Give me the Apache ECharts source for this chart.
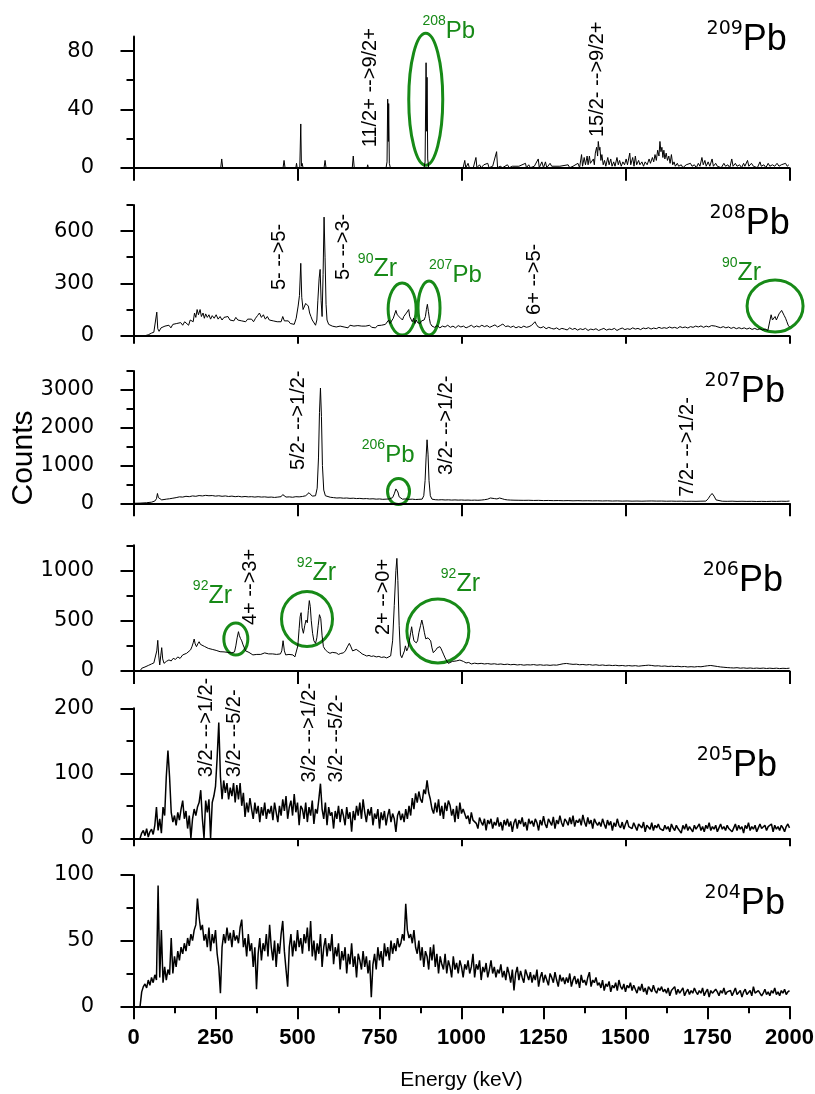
<!DOCTYPE html>
<html>
<head>
<meta charset="utf-8">
<script src="https://cdn.jsdelivr.net/npm/echarts@6/dist/echarts.min.js"></script>
<style>
html,body{margin:0;padding:0;background:#fff;}
#c{width:815px;height:1094px;}
</style>
</head>
<body>
<div id="c"></div>
<script>
// ---------------- DATA (energy keV, counts) ----------------
const isotopes = ['209', '208', '207', '206', '205', '204'];
const yMax = [90, 750, 3500, 1250, 200, 100];
const yMajor = [[0, 40, 80], [0, 300, 600], [0, 1000, 2000, 3000], [0, 500, 1000], [0, 100, 200], [0, 50, 100]];
const yMinor = [[20, 60], [150, 450, 750], [500, 1500, 2500, 3500], [250, 750, 1250], [50, 150], [25, 75]];
const xTicksBottom = [0, 250, 500, 750, 1000, 1250, 1500, 1750, 2000];
const xTitle = 'Energy (keV)';
const yTitle = 'Counts';

const p209 = [[20,0],[266,0],[269,6],[272,0],[456,0],[459,5],[462,0],[495,0],[497,3],[499,0],[507,0],[510,30],[512,1],[514,3],[517,0],[581,0],[584,5],[587,0],[667,0],[670,8],[673,0],[712,0],[714,2],[716,0],[770,0],[773,4],[775,47],[777,18],[778,44],[780,3],[783,0],[886,0],[889,4],[892,72],[894,25],[895,62],[897,6],[900,0],
[1005,0],[1010,5],[1013,0],[1020,3],[1024,0],[1030,1],[1036,0],[1044,7],[1047,0],[1055,2],[1060,0],[1068,2],[1072,1],[1080,3],[1084,0],[1095,1],[1100,0],[1107,11],[1110,0],[1118,1],[1125,0],[1140,2],[1146,0],[1155,1],[1160,0],[1175,1],[1180,0],[1195,3],[1198,0],[1205,2],[1210,0],[1222,1],[1226,0],[1234,6],[1237,0],[1245,4],[1250,0],[1256,4],[1260,0],[1270,3],[1275,1],[1280,0],[1300,1],[1305,0],[1325,2],[1330,0],[1340,1],[1345,0],[1355,3],[1360,0],[1366,9],[1369,1],[1374,7],[1378,2],[1383,8],[1386,2],[1390,8],[1393,3],[1398,2],[1402,6],[1405,2],[1408,10],[1412,14],[1415,8],[1417,18],[1420,12],[1422,14],[1425,5],[1428,9],[1432,2],[1436,5],[1440,1],[1446,7],[1450,2],[1455,6],[1459,1],[1464,4],[1468,1],[1474,7],[1478,2],[1482,5],[1487,1],[1492,4],[1497,2],[1502,6],[1506,2],[1513,10],[1516,2],[1522,7],[1526,1],[1530,8],[1534,2],[1540,5],[1544,2],[1550,4],[1555,1],[1560,4],[1566,2],[1572,6],[1576,3],[1582,7],[1586,4],[1590,9],[1594,5],[1598,12],[1602,8],[1605,18],[1608,11],[1611,14],[1614,7],[1617,12],[1620,6],[1624,10],[1628,5],[1632,8],[1636,3],[1640,9],[1644,2],[1648,4],[1652,1],[1658,3],[1662,1],[1670,2],[1675,0],[1685,2],[1690,1],[1698,3],[1703,1],[1710,2],[1716,0],[1722,3],[1727,1],[1733,7],[1737,2],[1742,5],[1746,1],[1752,4],[1757,1],[1764,6],[1768,1],[1775,3],[1780,1],[1786,2],[1792,0],[1800,3],[1805,1],[1812,2],[1818,0],[1824,6],[1828,1],[1835,3],[1840,1],[1848,2],[1854,0],[1860,3],[1864,1],[1872,5],[1876,1],[1884,3],[1890,1],[1896,2],[1902,0],[1910,4],[1914,1],[1922,2],[1928,0],[1935,3],[1940,1],[1948,2],[1955,1],[1962,3],[1968,1],[1975,2],[1980,1],[1988,3],[1993,1],[1998,2]];

const p208 = [[35,0],[45,5],[55,15],[62,20],[68,30],[71,135],[74,40],[78,25],[84,45],[90,35],[96,55],[102,50],[108,60],[114,45],[120,65],[126,55],[132,70],[138,60],[144,75],[150,60],[156,80],[162,70],[168,60],[173,90],[178,100],[182,80],[186,130],[190,105],[194,150],[198,120],[203,150],[207,110],[212,130],[216,100],[220,125],[225,105],[230,120],[235,95],[240,115],[246,100],[252,120],[258,95],[264,110],[270,90],[276,105],[282,95],[288,110],[294,90],[300,100],[306,85],[312,105],[318,90],[324,100],[330,85],[336,95],[342,80],[348,95],[354,85],[360,95],[366,80],[372,100],[378,115],[384,130],[390,105],[396,120],[402,95],[408,110],[414,90],[420,100],[426,85],[432,95],[438,80],[444,90],[450,80],[455,110],[460,85],[466,75],[472,85],[478,70],[484,80],[490,65],[496,100],[502,170],[506,230],[510,415],[513,220],[517,150],[521,160],[525,185],[529,195],[533,170],[537,130],[541,110],[545,90],[550,85],[555,60],[559,90],[562,200],[566,330],[569,380],[572,200],[575,110],[578,350],[581,680],[584,450],[587,180],[590,90],[595,65],[600,70],[606,55],[612,65],[618,50],[624,60],[630,55],[636,65],[642,50],[648,58],[654,45],[660,60],[666,50],[672,55],[678,45],[684,58],[690,50],[696,55],[702,45],[708,55],[714,50],[720,60],[726,48],[732,55],[738,45],[744,58],[750,50],[756,60],[762,55],[768,65],[774,60],[778,90],[782,70],[787,60],[792,100],[796,110],[800,145],[804,120],[808,130],[812,105],[816,110],[820,90],[824,110],[828,105],[832,130],[836,125],[839,150],[842,110],[846,95],[850,80],[854,100],[858,70],[862,90],[866,75],[870,80],[874,70],[878,85],[882,75],[886,90],[890,110],[893,150],[896,180],[899,140],[902,100],[905,70],
[910,55],[918,48],[926,58],[934,45],[942,55],[950,50],[958,60],[966,48],[974,55],[982,45],[990,58],[998,50],[1006,55],[1014,45],[1022,52],[1030,60],[1038,48],[1046,56],[1054,50],[1062,60],[1070,52],[1078,58],[1086,48],[1094,55],[1102,62],[1110,50],[1118,58],[1126,67],[1134,52],[1142,56],[1150,48],[1158,55],[1166,45],[1174,52],[1182,46],[1190,55],[1198,48],[1206,52],[1214,60],[1220,70],[1224,80],[1228,65],[1234,50],[1242,45],[1250,52],[1258,40],[1266,48],[1274,42],[1282,38],[1290,45],[1298,35],[1306,42],[1314,38],[1322,33],[1330,45],[1338,36],[1346,42],[1354,32],[1362,40],[1370,35],[1378,42],[1386,30],[1394,38],[1402,34],[1410,40],[1418,30],[1426,36],[1434,42],[1442,32],[1450,38],[1458,35],[1466,42],[1474,30],[1482,38],[1490,44],[1498,35],[1506,40],[1514,36],[1522,45],[1530,38],[1538,42],[1546,35],[1554,44],[1562,40],[1570,46],[1578,38],[1586,44],[1594,40],[1602,48],[1610,42],[1618,46],[1626,42],[1634,50],[1642,44],[1650,48],[1658,42],[1666,52],[1674,46],[1682,50],[1690,44],[1698,52],[1706,48],[1714,55],[1722,50],[1730,56],[1738,48],[1746,55],[1754,50],[1762,58],[1768,67],[1774,55],[1782,50],[1790,46],[1798,52],[1806,45],[1814,50],[1822,42],[1830,48],[1838,40],[1846,46],[1854,40],[1862,45],[1870,38],[1878,44],[1886,36],[1894,42],[1902,35],[1910,40],[1918,33],[1926,38],[1934,30],[1940,40],[1944,120],[1948,90],[1952,100],[1956,110],[1960,90],[1964,100],[1968,125],[1972,135],[1976,145],[1980,130],[1984,115],[1988,100],[1992,80],[1996,60],[2000,50]];

const p207 = [[0,0],[20,5],[40,15],[55,30],[65,60],[70,120],[73,260],[76,150],[79,200],[82,120],[86,90],[92,100],[100,110],[110,120],[120,135],[130,150],[140,170],[150,165],[160,185],[170,175],[180,195],[190,185],[200,205],[210,195],[220,210],[230,200],[240,205],[250,190],[260,200],[270,185],[280,195],[290,180],[300,190],[310,175],[320,185],[330,170],[340,180],[350,170],[360,175],[370,165],[380,175],[390,165],[400,170],[410,160],[420,165],[430,155],[440,165],[450,175],[455,230],[458,190],[465,165],[475,170],[485,160],[495,175],[505,170],[515,180],[525,200],[530,240],[535,280],[540,230],[545,190],[550,185],[555,200],[560,400],[564,1200],[567,2400],[570,3050],[573,2300],[576,1000],[580,350],[585,200],[590,170],[600,160],[610,150],[620,140],[630,145],[640,135],[650,140],[660,130],[670,135],[680,125],[690,130],[700,120],[710,125],[720,115],[730,120],[740,110],[750,115],[760,105],[770,110],[780,115],[790,150],[795,250],[800,380],[803,400],[806,300],[810,170],[815,120],[820,110],[830,115],[840,105],[850,110],[860,100],[870,105],[880,110],[885,200],[889,600],[892,1200],[895,1680],[898,1300],[901,600],[905,200],
[910,110],[920,95],[930,90],[940,95],[950,88],[960,92],[970,85],[980,90],[990,84],[1000,88],[1010,82],[1020,86],[1030,80],[1040,84],[1050,80],[1060,85],[1070,95],[1080,110],[1088,140],[1094,150],[1100,125],[1108,115],[1116,140],[1124,120],[1132,100],[1140,90],[1150,85],[1160,82],[1175,80],[1190,78],[1205,80],[1220,75],[1235,78],[1250,72],[1265,75],[1280,70],[1295,73],[1310,68],[1325,72],[1340,66],[1355,70],[1370,65],[1385,68],[1400,64],[1415,67],[1430,62],[1445,66],[1460,60],[1475,64],[1490,58],[1505,62],[1520,57],[1535,60],[1550,56],[1565,60],[1580,62],[1595,58],[1610,60],[1625,55],[1640,58],[1655,54],[1670,57],[1685,52],[1700,55],[1715,52],[1730,56],[1745,58],[1752,120],[1758,200],[1764,260],[1770,190],[1776,90],[1782,60],[1795,55],[1810,52],[1825,56],[1840,50],[1855,54],[1870,50],[1885,53],[1900,48],[1915,52],[1930,48],[1945,53],[1960,50],[1975,55],[1990,52],[2000,60]];

const p206 = [[20,0],[25,27],[35,40],[45,55],[55,70],[62,80],[68,90],[71,200],[74,305],[77,150],[80,60],[83,150],[86,232],[89,120],[93,76],[100,95],[108,110],[115,100],[121,126],[128,115],[135,140],[142,125],[150,160],[156,150],[162,176],[168,165],[174,210],[178,240],[182,280],[185,318],[188,270],[192,242],[196,270],[200,291],[204,265],[210,255],[216,245],[222,242],[228,225],[234,230],[240,215],[246,220],[252,205],[258,200],[264,192],[270,200],[276,190],[282,195],[288,185],[294,190],[300,180],[304,176],[308,190],[312,250],[316,330],[320,391],[323,350],[326,325],[330,300],[334,260],[338,230],[342,200],[346,192],[352,185],[358,170],[364,160],[370,149],[376,165],[382,175],[388,165],[394,170],[400,180],[406,176],[412,170],[418,180],[424,170],[430,175],[436,165],[442,175],[448,170],[452,200],[456,301],[460,200],[464,160],[468,149],[474,165],[480,150],[486,160],[492,140],[497,149],[501,250],[505,420],[508,540],[511,580],[514,430],[518,375],[522,450],[526,507],[530,480],[533,600],[536,700],[539,640],[542,500],[546,375],[550,300],[555,275],[559,330],[563,450],[567,560],[571,520],[575,350],[579,242],[585,210],[592,190],[599,176],[606,185],[612,170],[618,180],[625,165],[632,175],[640,180],[646,200],[652,240],[658,275],[663,240],[668,200],[674,195],[679,215],[685,225],[690,190],[697,170],[704,160],[711,149],[718,155],[725,145],[732,150],[740,140],[748,145],[756,135],[764,140],[772,130],[778,132],[784,150],[790,300],[795,650],[800,1000],[803,1120],[806,900],[810,450],[814,160],[818,132],[822,150],[826,200],[829,250],[833,200],[837,230],[841,300],[845,380],[848,440],[851,370],[855,300],[858,308],[862,280],[866,300],[870,380],[875,450],[879,507],[883,450],[887,380],[891,320],[894,308],[898,330],[902,341],[906,300],[910,230],[914,182],[918,200],[922,210],[926,230],[930,242],[934,242],[938,220],[942,190],[946,160],[950,130],[955,100],[960,76],[966,85],[972,95],[978,90],[984,100],[990,110],[995,109],[1000,100],
[1006,95],[1014,80],[1022,85],[1030,70],[1040,78],[1050,72],[1060,76],[1070,70],[1080,74],[1090,68],[1100,72],[1110,66],[1120,70],[1130,64],[1140,68],[1150,62],[1160,66],[1170,60],[1180,64],[1190,58],[1200,62],[1210,60],[1220,64],[1230,58],[1240,62],[1250,57],[1260,60],[1270,56],[1280,60],[1290,58],[1300,65],[1310,72],[1320,75],[1330,70],[1340,66],[1350,68],[1360,62],[1370,65],[1380,60],[1390,64],[1400,58],[1410,62],[1420,56],[1430,60],[1440,55],[1450,58],[1460,54],[1470,57],[1480,52],[1490,55],[1500,50],[1510,54],[1520,50],[1530,53],[1540,48],[1550,52],[1560,55],[1570,58],[1580,55],[1590,50],[1600,52],[1610,47],[1620,50],[1630,45],[1640,48],[1650,44],[1660,47],[1670,42],[1680,45],[1690,40],[1700,43],[1710,40],[1720,44],[1730,42],[1740,47],[1750,52],[1760,55],[1770,50],[1780,45],[1790,40],[1800,37],[1810,34],[1820,32],[1830,30],[1840,33],[1850,28],[1860,31],[1870,27],[1880,30],[1890,26],[1900,29],[1910,26],[1920,29],[1930,25],[1940,28],[1950,25],[1960,28],[1970,24],[1980,27],[1990,25],[2000,28]];

// 205Pb and 204Pb: counts per 5 keV channel starting at 20 keV
const chanStart = 20, chanWidth = 5;
const c205 = [
0,8,12,4,15,2,10,14,6,20,48,12,30,8,48,35,95,135,94,40,
25,35,20,40,28,45,58,30,42,15,35,0,30,45,35,48,55,74,30,0,
58,40,60,0,55,65,80,124,178,95,60,89,70,85,60,78,65,85,55,82,
60,85,50,70,33,55,40,62,45,30,55,38,50,25,48,35,55,30,45,38,
50,28,55,40,25,50,35,60,42,65,30,48,58,35,68,40,55,20,50,45,
30,55,25,48,35,58,22,45,38,60,84,45,30,55,20,48,35,40,15,42,
30,50,25,45,35,20,48,30,40,10,42,28,50,35,55,30,60,40,25,45,
35,48,20,38,30,45,15,40,28,42,20,35,45,25,38,30,10,35,42,28,
38,25,45,30,50,35,62,45,69,55,72,60,55,75,68,89,70,60,45,38,
55,40,60,35,50,30,55,42,58,51,35,45,25,50,30,55,38,45,48,30,
35,22,40,28,30,23,15,32,25,20,30,12,28,22,30,15,25,20,32,18,
25,12,28,20,30,18,26,10,24,30,15,28,22,32,18,25,12,30,22,27,
18,30,24,12,28,20,34,22,16,30,25,20,33,15,28,22,35,24,18,30,
26,20,32,22,35,18,28,24,30,20,36,25,18,32,22,28,15,30,24,20,
25,18,30,22,15,28,20,26,12,24,18,30,20,16,25,14,22,28,18,20,
15,24,18,12,22,20,16,25,10,20,18,14,24,12,20,16,22,15,18,12,
20,14,18,10,22,16,12,20,15,18,8,20,14,22,12,18,16,10,20,14,
16,22,12,18,10,20,15,24,12,18,14,20,10,16,22,14,18,12,20,15,
18,10,16,22,12,20,14,18,8,20,15,24,12,18,14,20,10,16,22,15,
14,20,12,18,16,22,10,20,14,18,12,20,16,10,18,22,16];
const c204 = [
0,11,15,17,14,20,16,22,18,24,20,92,22,58,18,30,20,28,24,52,
25,38,30,42,35,45,40,48,42,52,46,55,50,58,62,82,68,58,62,50,
55,45,60,42,55,48,58,40,30,10,45,55,48,60,50,56,45,58,50,54,
48,60,66,45,52,38,55,42,48,30,45,13,40,52,35,48,42,55,38,62,
45,35,50,30,48,40,55,65,42,28,15,45,55,38,50,42,58,45,52,40,
55,48,60,42,65,38,50,35,48,40,55,30,45,52,38,48,42,55,32,45,
38,48,28,42,35,45,25,40,32,48,30,38,22,40,35,28,42,30,38,25,
35,7,32,40,28,45,35,42,30,48,38,45,35,50,40,48,42,52,45,48,
55,50,78,58,52,55,48,58,45,40,50,35,45,30,42,38,28,45,35,47,
30,40,25,38,32,28,40,25,35,30,22,38,28,33,25,35,30,22,32,28,
35,25,30,40,22,32,28,35,20,30,26,33,22,28,35,25,30,22,28,25,
32,22,27,20,30,25,18,28,12,25,30,20,27,22,18,28,24,20,26,18,
24,20,28,15,22,26,18,24,20,16,25,22,18,26,20,15,24,19,22,17,
22,18,25,15,20,23,17,21,14,24,18,20,16,22,26,15,20,18,22,16,
18,14,20,12,17,15,19,11,16,14,18,12,20,15,13,17,11,16,14,18,
12,16,13,10,15,12,17,11,14,9,15,13,11,16,12,10,14,12,15,11,
13,10,14,8,12,11,15,9,13,10,12,14,8,11,13,9,12,10,14,11,
9,12,10,14,8,11,13,7,12,10,9,13,11,8,12,10,14,9,11,10,
12,8,11,14,9,10,12,7,11,13,9,10,12,8,15,10,9,12,11,8,
10,13,9,11,8,12,10,14,9,11,8,12,10,13,9,11,12];

// Annotations in data coordinates: [panel, keV, counts, text]
const transitions = [
  [0, 722, 14, '11/2+ -->9/2+'],
  [0, 1416, 21, '15/2- -->9/2+'],
  [1, 444, 262, '5- -->5-'],
  [1, 639, 320, '5- -->3-'],
  [1, 1224, 119, '6+ -->5-'],
  [2, 502, 881, '5/2- -->1/2-'],
  [2, 955, 749, '3/2- -->1/2-'],
  [2, 1690, 175, '7/2- -->1/2-'],
  [3, 357, 457, '4+ -->3+'],
  [3, 761, 358, '2+ -->0+'],
  [4, 223, 94, '3/2- -->1/2-'],
  [4, 309, 94, '3/2- --5/2-'],
  [4, 538, 86, '3/2- -->1/2-'],
  [4, 620, 86, '3/2- --5/2-']
];
// contaminant labels: [panel, keV (left edge), counts (centre), mass, element]
const contaminants = [
  [0, 881, 93.6, '208', 'Pb'],
  [1, 684, 383, '90', 'Zr'],
  [1, 901, 348, '207', 'Pb'],
  [1, 1794, 361, '90', 'Zr'],
  [2, 696, 1278, '206', 'Pb'],
  [3, 181, 745, '92', 'Zr'],
  [3, 498, 977, '92', 'Zr'],
  [3, 937, 865, '92', 'Zr']
];
// rings around contaminant peaks: [panel, keV, counts] centre
const rings = [[0, 891, 47], [1, 819, 153], [1, 901, 159], [1, 1956, 170], [2, 808, 312], [3, 312, 318], [3, 529, 517], [3, 928, 398]];
// panel isotope label anchor (right edge keV, counts at centre)
const isoAnchor = [[1992, 87.8], [2001, 642], [1986, 2944], [1980, 895], [1962, 111.7], [1986, 78.1]];

// ---------------- LAYOUT / STYLE ----------------
const ringRadii = [[17, 66], [14, 26], [11, 27], [28, 26], [11, 13], [12, 16], [25.5, 27.5], [31, 32]];
const gridTop = [36.5, 204.9, 371, 545.3, 708.3, 875];
const gridH = [131.2, 130.8, 132.3, 125.7, 130, 131.3];
const xTickLen = [13, 8, 13, 13, 8, 13];
const lineW = [1, 1, 1, 1, 1.5, 1.5];
const GREEN = '#178a17';
const ARIAL = '"Liberation Sans", Arial, sans-serif';
const DEJAVU = '"DejaVu Sans", sans-serif';

const seriesData = [p209, p208, p207, p206,
  c205.map((v, i) => [chanStart + i * chanWidth, v]),
  c204.map((v, i) => [chanStart + i * chanWidth, v])];

const grids = [], xAxes = [], yAxes = [], series = [];
for (let i = 0; i < 6; i++) {
  grids.push({left: 133.5, width: 656, top: gridTop[i], height: gridH[i], containLabel: false});
  const last = i === 5;
  xAxes.push({
    gridIndex: i, type: 'value', min: 0, max: 2000, interval: last ? 250 : 500,
    axisLine: {show: true, onZero: false, lineStyle: {color: '#000', width: 2}},
    axisTick: {show: true, length: xTickLen[i], lineStyle: {color: '#000', width: 2}},
    minorTick: last ? {show: true, splitNumber: 2, length: 7, lineStyle: {color: '#000', width: 2}} : {show: false},
    axisLabel: {show: false},
    splitLine: {show: false}
  });
  yAxes.push({
    gridIndex: i, type: 'value', position: 'left', min: 0, max: yMax[i],
    axisLine: {show: true, lineStyle: {color: '#000', width: 2}},
    axisTick: {show: true, length: 13, lineStyle: {color: '#000', width: 2}, customValues: yMajor[i]},
    axisLabel: {show: false},
    splitLine: {show: false}
  });
  yAxes.push({
    gridIndex: i, type: 'value', position: 'left', min: 0, max: yMax[i],
    axisLine: {show: false},
    axisTick: {show: true, length: 7, lineStyle: {color: '#000', width: 2}, customValues: yMinor[i]},
    axisLabel: {show: false},
    splitLine: {show: false}
  });
  series.push({
    type: 'line', xAxisIndex: i, yAxisIndex: 2 * i, data: seriesData[i],
    symbol: 'none', showSymbol: false, silent: true,
    lineStyle: {color: '#000', width: lineW[i]}
  });
}

const chart = echarts.init(document.getElementById('c'), null, {renderer: 'canvas'});
chart.setOption({
  animation: false,
  backgroundColor: '#fff',
  grid: grids, xAxis: xAxes, yAxis: yAxes, series: series
});

// -------- labels and annotations (all left-anchored, widths measured) ---------
const ctx = document.createElement('canvas').getContext('2d');
function textW(t, size, family, weight) { ctx.font = (weight || 'normal') + ' ' + size + 'px ' + family; return ctx.measureText(t).width; }
const toPx = (p, x, y) => chart.convertToPixel({xAxisIndex: p, yAxisIndex: 2 * p}, [x, y]);
const g = [];
// anchor: 'left' | 'right' | 'center' horizontally relative to (x, y); y is vertical middle
function txt(x, y, text, size, family, fill, anchor, weight) {
  const w = textW(text, size, family, weight);
  const left = anchor === 'right' ? x - w : anchor === 'center' ? x - w / 2 : x;
  g.push({type: 'text', x: left, y: y, silent: true,
    style: {text: text, fontSize: size, fontFamily: family, fontWeight: weight || 'normal', fill: fill,
      align: 'left', verticalAlign: 'middle'}});
  return w;
}
// vertical text reading bottom-to-top; (x, yStart) is where the text begins
function vtxt(x, yStart, text, size, family, fill) {
  g.push({type: 'text', x: x, y: yStart, rotation: Math.PI / 2, silent: true,
    style: {text: text, fontSize: size, fontFamily: family, fill: fill, align: 'left', verticalAlign: 'middle'}});
}

// y tick labels (right edge 39.5 px left of the axis line)
for (let p = 0; p < 6; p++) {
  yMajor[p].forEach(v => {
    const [px, py] = toPx(p, 0, v);
    txt(px - 39.5, py, String(v), 21, DEJAVU, '#000', 'right');
  });
}
// bottom x tick labels
xTicksBottom.forEach(v => {
  const [px, py] = toPx(5, v, 0);
  txt(px, py + 31.5, String(v), 22, ARIAL, '#000', 'center', 'bold');
});
{
  const [a] = toPx(5, 0, 0), [b, py] = toPx(5, 2000, 0);
  txt((a + b) / 2, py + 74, xTitle, 21, ARIAL, '#000', 'center');
}
// Counts title (centred at y = 458)
vtxt(24, 458 + textW(yTitle, 30, ARIAL) / 2, yTitle, 30, ARIAL, '#000');

transitions.forEach(([p, e, c, t]) => {
  const [px, py] = toPx(p, e, c);
  vtxt(px, py, t, 20, ARIAL, '#000');
});

contaminants.forEach(([p, e, c, m, el]) => {
  const [px, py] = toPx(p, e, c);
  const w = txt(px, py - 10, m, 14, ARIAL, GREEN, 'left');
  txt(px + w, py, el, el === 'Zr' ? 25 : 24, ARIAL, GREEN, 'left');
});

rings.forEach(([p, e, c], k) => {
  const [px, py] = toPx(p, e, c);
  g.push({type: 'ellipse', silent: true, shape: {cx: px, cy: py, rx: ringRadii[k][0], ry: ringRadii[k][1]},
    style: {fill: 'none', stroke: GREEN, lineWidth: 3}});
});

isotopes.forEach((m, p) => {
  const [px, py] = toPx(p, isoAnchor[p][0], isoAnchor[p][1]);
  const w = txt(px, py, 'Pb', 36, ARIAL, '#000', 'right');
  txt(px - w, py - 11, m, 19, DEJAVU, '#000', 'right');
});

chart.setOption({graphic: {elements: g}});
</script>
</body>
</html>
